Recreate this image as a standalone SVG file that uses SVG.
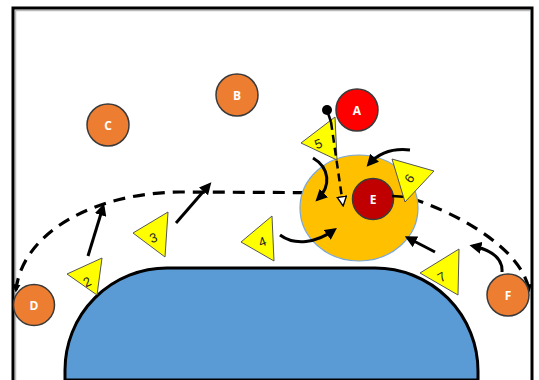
<svg xmlns="http://www.w3.org/2000/svg" width="539" height="380" viewBox="0 0 539 380">
<style>
.player{stroke:#3a3a3a;stroke-width:1.5}
.orange{fill:#ED7D31}
.plbl{font-family:"Open Sans","Liberation Sans",sans-serif;font-weight:bold;font-size:12px;fill:#fff;text-anchor:middle}
.tri{fill:#FFFF00;stroke:#555;stroke-width:1}
.tlbl{font-family:"Liberation Sans","Open Sans",sans-serif;font-size:13px;fill:#222;text-anchor:middle}
.arr{fill:none;stroke:#000;stroke-width:3;marker-end:url(#ah)}
.dash{fill:none;stroke:#000;stroke-width:3.2;stroke-dasharray:12 8}
</style>
<defs>
<marker id="ah" viewBox="0 0 10 10" refX="7" refY="5" markerWidth="12" markerHeight="12" markerUnits="userSpaceOnUse" orient="auto"><path d="M0,0 L10,5 L0,10 z" fill="#000"/></marker>
<marker id="ahs" viewBox="0 0 10 10" refX="7" refY="5" markerWidth="8" markerHeight="8" markerUnits="userSpaceOnUse" orient="auto-start-reverse"><path d="M0,0 L10,5 L0,10 z" fill="#000"/></marker>
<marker id="oah" viewBox="0 0 12 12" refX="10" refY="6" markerWidth="11" markerHeight="11" markerUnits="userSpaceOnUse" orient="auto"><path d="M1,1 L11,6 L1,11 z" fill="#fff" stroke="#000" stroke-width="1.5"/></marker>
</defs>
<rect width="539" height="380" fill="#fff"/>
<!-- border -->
<path d="M15.5,380 V10.5 H530" fill="none" stroke="#bbb" stroke-width="1.5"/>
<path d="M13,380 V8 H532 V380" fill="none" stroke="#000" stroke-width="3"/>
<!-- court -->
<path id="court" d="M65,380 L65,370 A102,102 0 0 1 167,268 L375,268 A103,103 0 0 1 478,371 L478,380 Z" fill="#5B9BD5" stroke="#000" stroke-width="3"/>
<g id="connectors">
<path class="dash" d="M16,290 C22,235 90,193 180,192 L390,193 C430,200 520,240 529,290" marker-start="url(#ahs)" marker-end="url(#ahs)"/>
</g>
<g id="zone"><ellipse cx="359" cy="208" rx="59" ry="53" fill="#FFC000" stroke="#7AA6D6" stroke-width="1.2"/></g>
<g id="E"><circle cx="373" cy="199" r="20.5" fill="#C00000" class="player"/><text class="plbl" x="373" y="203.5">E</text></g>
<g id="connectors2">
<line x1="392" y1="196" x2="407" y2="197" stroke="#000" stroke-width="2.5"/>
</g>
<g id="t2"><polygon class="tri" points="67,274 102,258 97,295"/><text class="tlbl" transform="translate(89,286) rotate(-25)">2</text></g>
<g id="t3"><polygon class="tri" points="133,233 168,212 165,257"/><text class="tlbl" transform="translate(155,242) rotate(-20)">3</text></g>
<g id="t4"><polygon class="tri" points="241,242 272,216 274,261"/><text class="tlbl" transform="translate(264,246) rotate(-20)">4</text></g>
<g id="t5"><polygon class="tri" points="301,143 335,117 337,160"/><text class="tlbl" transform="translate(320,148) rotate(-20)">5</text></g>
<g id="t6"><polygon class="tri" points="392,159 434,171 405,202"/><text class="tlbl" transform="translate(413,181) rotate(-55)">6</text></g>
<g id="t7"><polygon class="tri" points="420,273 459,249 458,295"/><text class="tlbl" transform="translate(444,281) rotate(-30)">7</text></g>
<g id="arrows">
<line class="arr" x1="88" y1="256" x2="103" y2="207"/>
<line class="arr" x1="176" y1="223" x2="209" y2="185"/>
<path class="arr" d="M280,235 C295,246 316,243 334,230"/>
<path class="arr" d="M313,158 C330,168 331,186 318,199"/>
<path class="arr" d="M410,150 C392,148 378,154 369,164"/>
<line class="arr" x1="435" y1="252" x2="408" y2="238"/>
<path class="arr" d="M502,272 C503,258 491,250 473,246"/>
<line x1="327" y1="110" x2="331" y2="122" stroke="#000" stroke-width="2.5"/>
<line x1="331" y1="122" x2="343" y2="205" stroke="#000" stroke-width="2.5" stroke-dasharray="8 5" marker-end="url(#oah)"/>
<circle cx="327" cy="110" r="5" fill="#000"/>
</g>
<g id="A"><circle cx="357" cy="110" r="21" fill="#FF0000" class="player"/><text class="plbl" x="357" y="114.5">A</text></g>
<g id="B"><circle cx="237" cy="95" r="21" class="orange player"/><text class="plbl" x="237" y="99.5">B</text></g>
<g id="C"><circle cx="108" cy="125" r="21" class="orange player"/><text class="plbl" x="108" y="129.5">C</text></g>
<g id="D"><circle cx="34" cy="305" r="20.5" class="orange player"/><text class="plbl" x="34" y="309.5">D</text></g>
<g id="F"><circle cx="508" cy="295" r="21" class="orange player"/><text class="plbl" x="508" y="299.5">F</text></g>
</svg>
